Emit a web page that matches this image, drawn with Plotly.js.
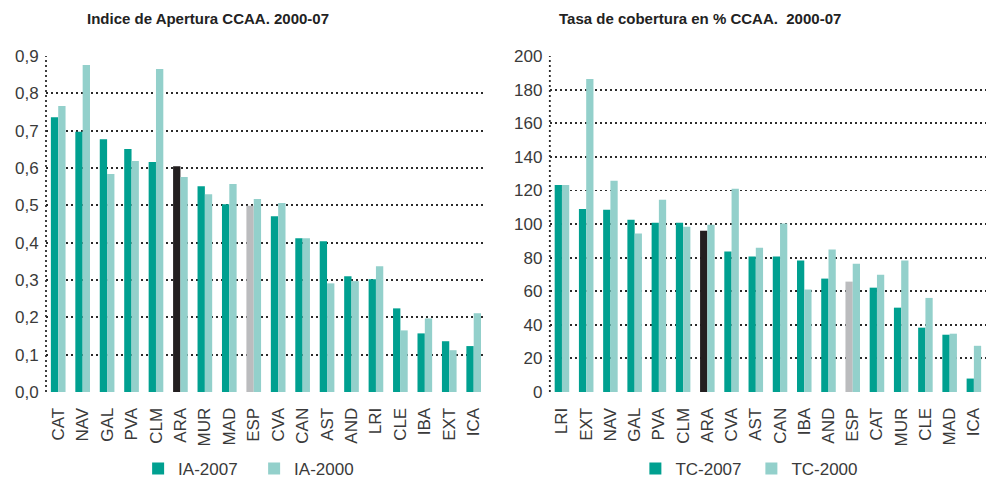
<!DOCTYPE html>
<html>
<head>
<meta charset="utf-8">
<script src="https://cdn.plot.ly/plotly-3.0.1.min.js"></script>
<style>
  body { margin: 0; background: #fff; }
  #chart { width: 986px; height: 478px; }
</style>
</head>
<body>
<div id="chart"></div>
<script>
// Indice de Apertura (izquierda)
const iaRegions = ['CAT', 'NAV', 'GAL', 'PVA', 'CLM', 'ARA', 'MUR', 'MAD', 'ESP',
                   'CVA', 'CAN', 'AST', 'AND', 'LRI', 'CLE', 'IBA', 'EXT', 'ICA'];
const ia2007 = [0.736, 0.697, 0.677, 0.651, 0.616, 0.605, 0.551, 0.503, 0.499,
                0.471, 0.412, 0.404, 0.310, 0.302, 0.224, 0.157, 0.136, 0.123];
const ia2000 = [0.766, 0.876, 0.584, 0.619, 0.865, 0.576, 0.530, 0.557, 0.517,
                0.506, 0.412, 0.291, 0.297, 0.337, 0.165, 0.197, 0.112, 0.211];

// Tasa de cobertura (derecha)
const tcRegions = ['LRI', 'EXT', 'NAV', 'GAL', 'PVA', 'CLM', 'ARA', 'CVA', 'AST',
                   'CAN', 'IBA', 'AND', 'ESP', 'CAT', 'MUR', 'CLE', 'MAD', 'ICA'];
const tc2007 = [123.2, 108.9, 108.5, 102.6, 100.8, 100.8, 96.0, 83.6, 80.6,
                80.6, 78.3, 67.5, 65.7, 62.1, 50.2, 38.3, 34.1, 8.0];
const tc2000 = [123.2, 186.3, 125.7, 94.3, 114.4, 98.4, 99.6, 121.0, 85.9,
                100.3, 61.0, 84.8, 76.4, 69.8, 78.3, 56.0, 34.7, 27.5];

const TEAL = '#00a090';
const LIGHT = '#93d0cb';
const ARA_COLOR = '#231f20';
const ESP_COLOR = '#bbbcbe';
const FONT = 'Liberation Sans, Arial, sans-serif';
const TEXT_COLOR = '#3a3a3a';
const DOTS = '2px,3px';

// color de cada barra de 2007: ARA en negro, ESP en gris
function colors2007(regions) {
    return regions.map(r => r === 'ARA' ? ARA_COLOR : (r === 'ESP' ? ESP_COLOR : TEAL));
}

const traces = [
    { x: iaRegions, y: ia2007, type: 'bar', name: 'IA-2007',
      marker: { color: colors2007(iaRegions) }, xaxis: 'x', yaxis: 'y', legend: 'legend' },
    { x: iaRegions, y: ia2000, type: 'bar', name: 'IA-2000',
      marker: { color: LIGHT }, xaxis: 'x', yaxis: 'y', legend: 'legend' },
    { x: tcRegions, y: tc2007, type: 'bar', name: 'TC-2007',
      marker: { color: colors2007(tcRegions) }, xaxis: 'x2', yaxis: 'y2', legend: 'legend2' },
    { x: tcRegions, y: tc2000, type: 'bar', name: 'TC-2000',
      marker: { color: LIGHT }, xaxis: 'x2', yaxis: 'y2', legend: 'legend2' }
];

const xCommon = {
    tickangle: -90,
    tickfont: { family: FONT, size: 17, color: TEXT_COLOR },
    ticks: 'outside', ticklen: 8, tickcolor: 'rgba(0,0,0,0)',
    showgrid: false, zeroline: false, showline: false,
    automargin: false, fixedrange: true
};
const yCommon = {
    tickfont: { family: FONT, size: 17, color: TEXT_COLOR },
    showgrid: true, gridcolor: '#2b2b2b', gridwidth: 1.8, griddash: DOTS,
    zeroline: false, showline: false,
    ticks: 'outside', ticklen: 3, tickcolor: 'rgba(0,0,0,0)',
    automargin: false, fixedrange: true
};
const legendCommon = {
    orientation: 'h', xanchor: 'left', yanchor: 'middle',
    font: { family: FONT, size: 17, color: TEXT_COLOR },
    bgcolor: 'rgba(0,0,0,0)', entrywidth: 71, traceorder: 'normal'
};
const titleFont = { family: 'Liberation Sans Narrow, Arial Narrow, Liberation Sans, sans-serif',
                    size: 15, color: '#222', weight: 'bold' };

// linea vertical punteada a la izquierda de cada grafico
function leftLine(xref, yref) {
    return { type: 'line', xref: xref + ' domain', yref: yref + ' domain',
             x0: 0, x1: 0, y0: 0, y1: 1,
             line: { color: '#2b2b2b', width: 1.8, dash: DOTS } };
}

const layout = {
    width: 986, height: 478,
    margin: { l: 46, r: 0, t: 56, b: 86, autoexpand: false },
    paper_bgcolor: '#fff', plot_bgcolor: '#fff',
    separators: ',.',
    barmode: 'group', bargap: 0.4, bargroupgap: 0,
    xaxis: Object.assign({}, xCommon, { domain: [0, 0.468], anchor: 'y' }),
    yaxis: Object.assign({}, yCommon, { range: [0, 0.9], dtick: 0.1, tickformat: '.1f', anchor: 'x' }),
    xaxis2: Object.assign({}, xCommon, { domain: [0.536, 1], anchor: 'y2' }),
    yaxis2: Object.assign({}, yCommon, { range: [0, 200], dtick: 20, anchor: 'x2' }),
    legend: Object.assign({}, legendCommon, { x: 0.098, y: -0.229 }),
    legend2: Object.assign({}, legendCommon, { x: 0.627, y: -0.229 }),
    shapes: [leftLine('x', 'y'), leftLine('x2', 'y2')],
    annotations: [
        { text: 'Indice de Apertura CCAA. 2000-07', xref: 'paper', yref: 'paper',
          x: 0.172, y: 1.113, xanchor: 'center', yanchor: 'middle', showarrow: false, font: titleFont },
        { text: 'Tasa de cobertura en % CCAA.  2000-07', xref: 'paper', yref: 'paper',
          x: 0.696, y: 1.113, xanchor: 'center', yanchor: 'middle', showarrow: false, font: titleFont }
    ]
};

Plotly.newPlot('chart', traces, layout, { displayModeBar: false, staticPlot: true });
</script>
</body>
</html>
